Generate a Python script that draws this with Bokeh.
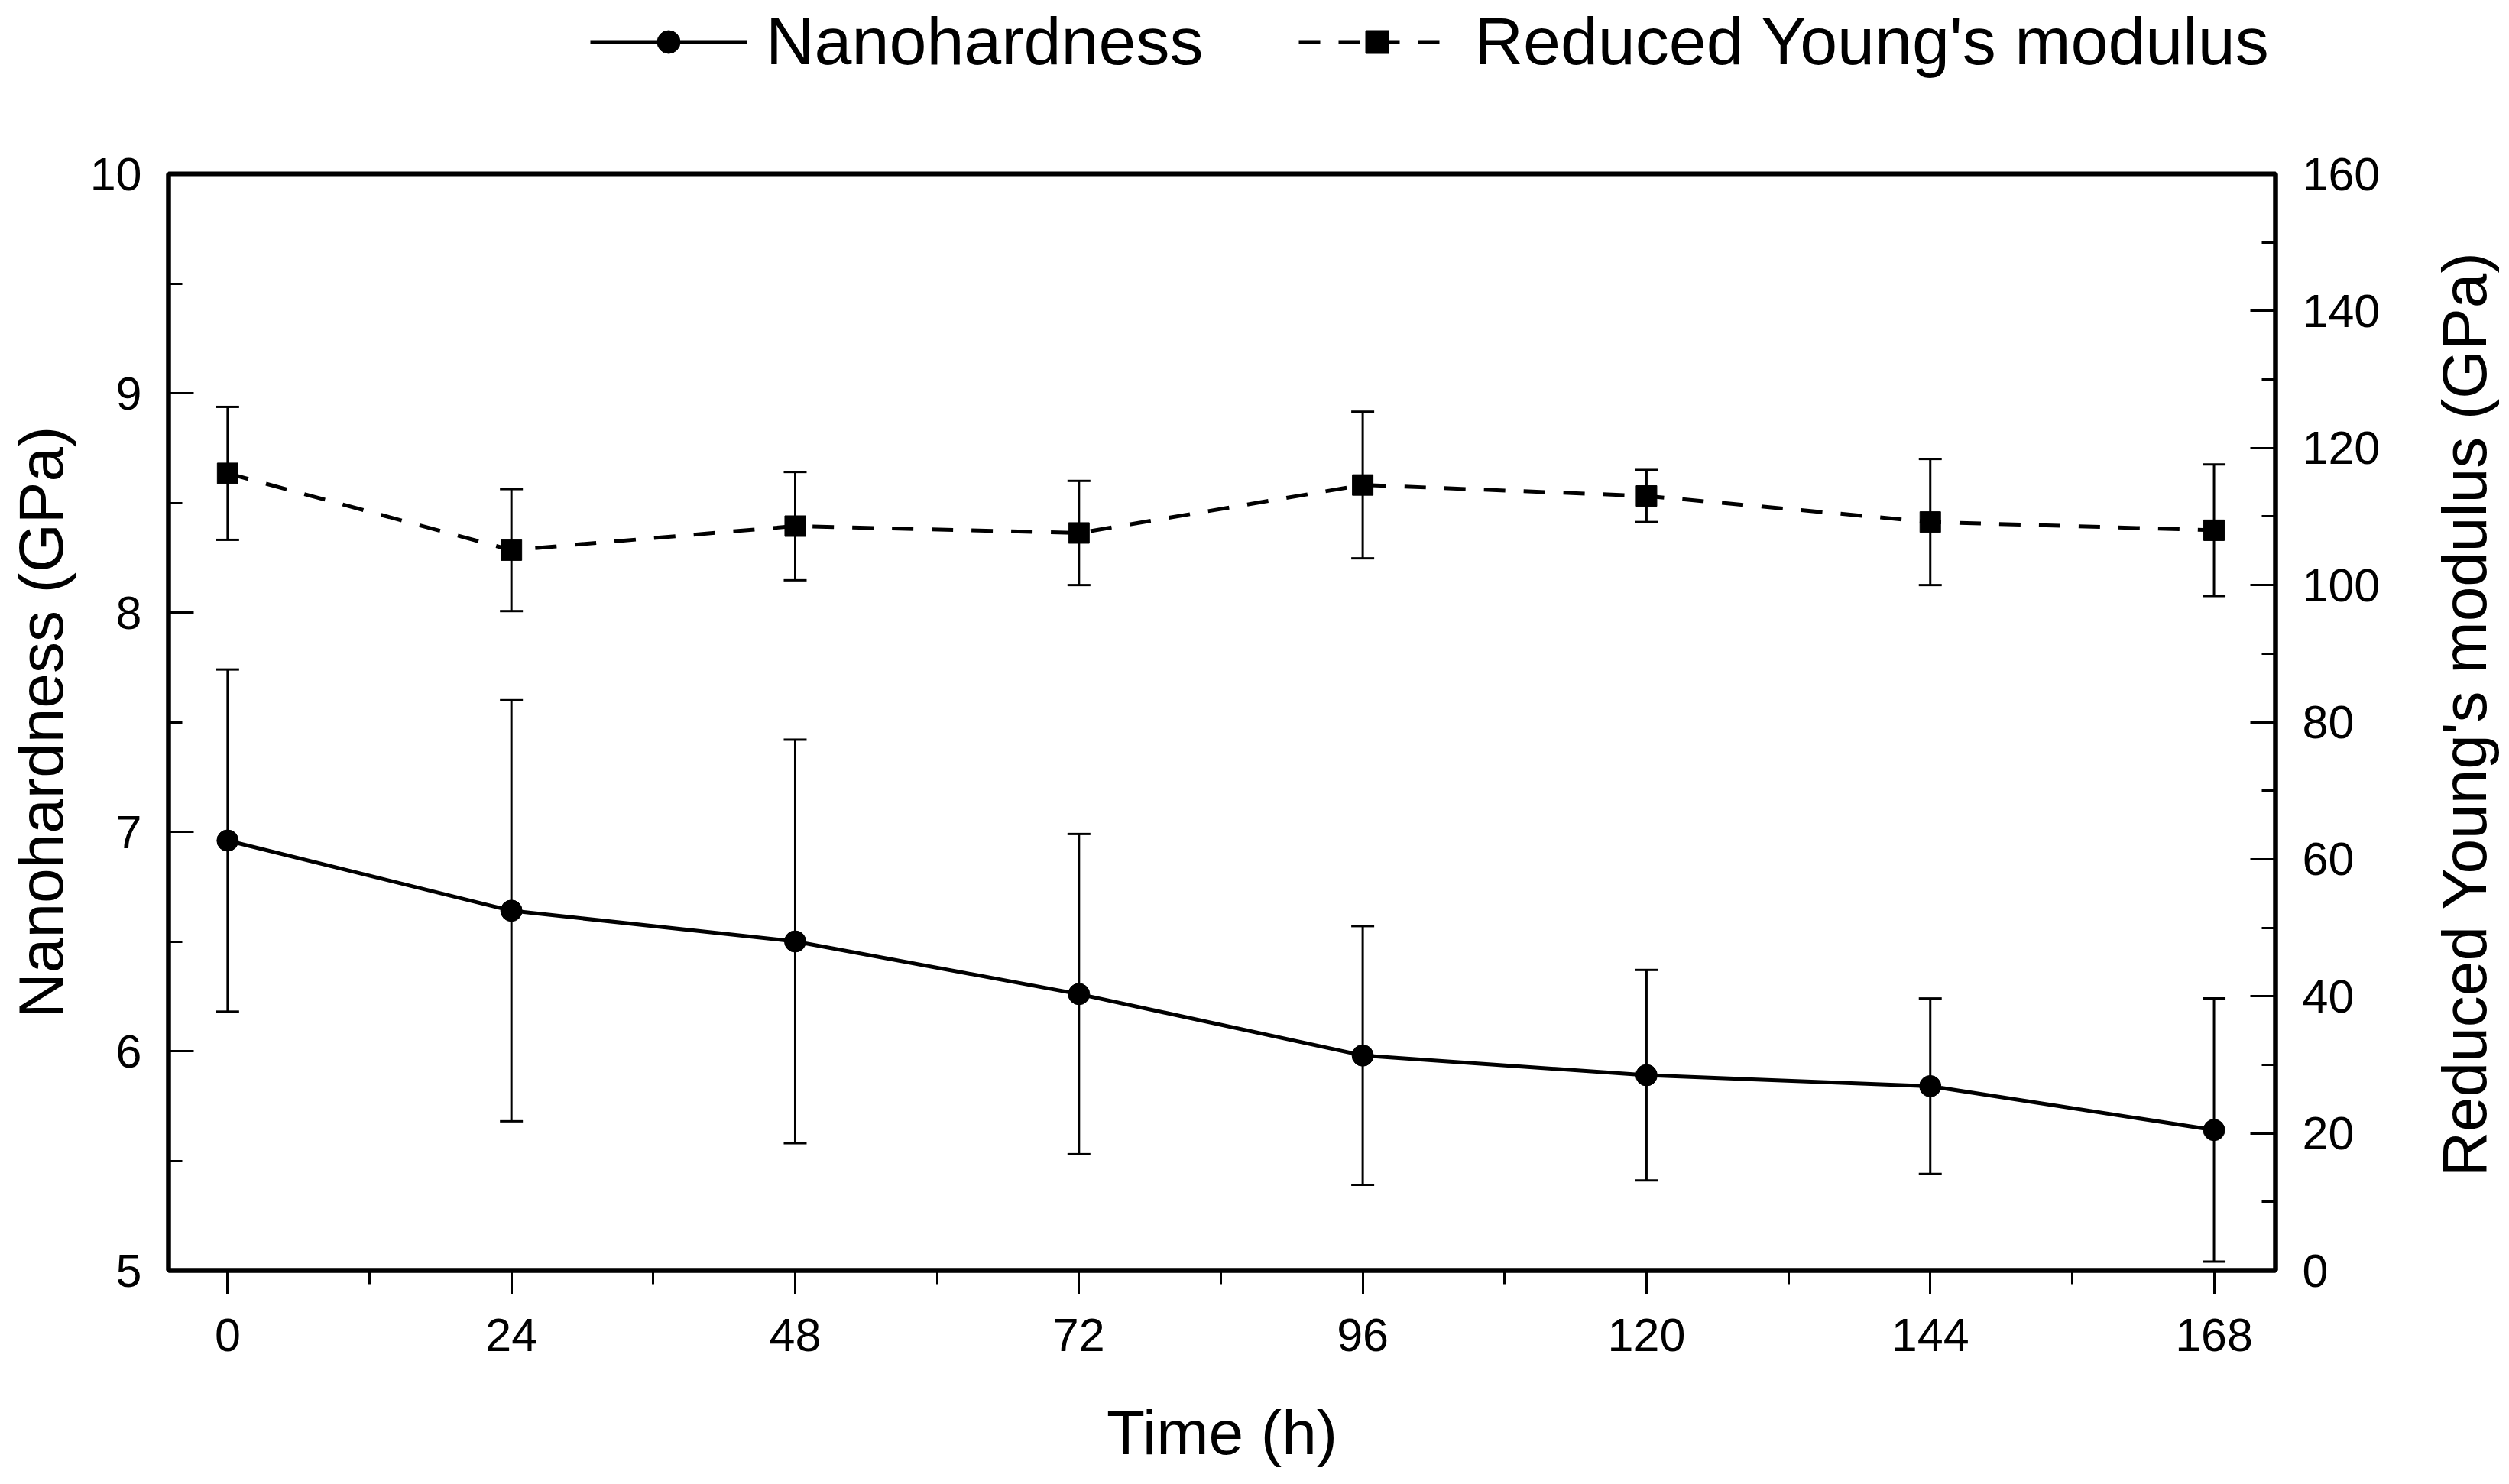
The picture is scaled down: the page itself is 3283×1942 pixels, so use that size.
import math
from bokeh.plotting import figure
from bokeh.layouts import row, column
from bokeh.models import (Range1d, LinearAxis, Whisker, TeeHead, ColumnDataSource,
                          Legend, LegendItem, FixedTicker, Label)
from bokeh.embed import file_html
from bokeh.resources import INLINE

# ---- data ----
time_h = [0, 24, 48, 72, 96, 120, 144, 168]
hardness = [6.96, 6.64, 6.50, 6.26, 5.98, 5.89, 5.84, 5.64]
hardness_err = [0.78, 0.96, 0.92, 0.73, 0.59, 0.48, 0.40, 0.60]
modulus = [116.3, 105.1, 108.6, 107.6, 114.6, 113.0, 109.2, 108.0]
modulus_err = [9.7, 8.9, 7.9, 7.6, 10.7, 3.8, 9.2, 9.6]

x_ticks = [0, 24, 48, 72, 96, 120, 144, 168]
x_minor = [12, 36, 60, 84, 108, 132, 156]
left_ticks = [5, 6, 7, 8, 9, 10]
left_minor = [5.5, 6.5, 7.5, 8.5, 9.5]
right_ticks = [0, 20, 40, 60, 80, 100, 120, 140, 160]
right_minor = [10, 30, 50, 70, 90, 110, 130, 150]

x_title = "Time (h)"
left_title = "Nanohardness (GPa)"
right_title = "Reduced Young's modulus (GPa)"
series_names = ["Nanohardness", "Reduced Young's modulus"]

FONT = "Liberation Sans"
LEG_H = 112          # height of the legend strip on top
MAIN_W = 3140
MAIN_H = 1926 - LEG_H

src = ColumnDataSource(dict(
    t=time_h,
    h=hardness,
    h_lo=[v - e for v, e in zip(hardness, hardness_err)],
    h_hi=[v + e for v, e in zip(hardness, hardness_err)],
    m=modulus,
    m_lo=[v - e for v, e in zip(modulus, modulus_err)],
    m_hi=[v + e for v, e in zip(modulus, modulus_err)],
))

LINE_KW = dict(line_color="black", line_width=5)
DASH_KW = dict(line_color="black", line_width=5, line_dash="28 24")
CIRC_KW = dict(marker="circle", size=28, color="black")
SQR_KW = dict(marker="square", size=27, color="black")

# ---------------- main chart ----------------
p = figure(width=MAIN_W, height=MAIN_H, output_backend="svg", toolbar_location=None,
           x_range=Range1d(-5.0, 173.2), y_range=Range1d(5, 10),
           min_border_left=220, min_border_right=163, min_border_top=227 - LEG_H,
           min_border_bottom=264)
p.grid.visible = False
p.background_fill_color = "white"
p.border_fill_color = "white"
p.outline_line_color = "black"
p.outline_line_width = 6

p.extra_y_ranges = {"mod": Range1d(0, 160)}

def style_axis(ax, major, minor, tick_in, tick_out, minor_in, minor_out, standoff):
    ax.ticker = FixedTicker(ticks=major, minor_ticks=minor)
    ax.axis_line_width = 6
    ax.axis_line_color = "black"
    ax.major_tick_line_width = 3
    ax.minor_tick_line_width = 3
    ax.major_tick_in = tick_in
    ax.major_tick_out = tick_out
    ax.minor_tick_in = minor_in
    ax.minor_tick_out = minor_out
    ax.major_label_text_font = FONT
    ax.major_label_text_font_size = "61px"
    ax.major_label_text_color = "black"
    ax.major_label_standoff = standoff
    ax.axis_label_text_font = FONT
    ax.axis_label_text_font_size = "82px"
    ax.axis_label_text_font_style = "normal"
    ax.axis_label_text_color = "black"

xa = p.xaxis[0]
xa.axis_label = x_title
style_axis(xa, x_ticks, x_minor, 0, 31, 0, 18, 32)
xa.axis_label_standoff = 58

ya = p.yaxis[0]
ya.axis_label = left_title
style_axis(ya, left_ticks, left_minor, 33, 0, 18, 0, 35)
ya.axis_label_standoff = 16

yr = LinearAxis(y_range_name="mod")
style_axis(yr, right_ticks, right_minor, 33, 0, 18, 0, 35)
p.add_layout(yr, "right")

p.line("t", "h", source=src, **LINE_KW)
p.scatter("t", "h", source=src, **CIRC_KW)
p.line("t", "m", source=src, y_range_name="mod", **DASH_KW)
p.scatter("t", "m", source=src, y_range_name="mod", **SQR_KW)

def tee():
    return TeeHead(size=30, line_width=3, line_color="black")

p.add_layout(Whisker(source=src, base="t", upper="h_hi", lower="h_lo",
                     line_color="black", line_width=3,
                     upper_head=tee(), lower_head=tee()))
p.add_layout(Whisker(source=src, base="t", upper="m_hi", lower="m_lo",
                     y_range_name="mod", line_color="black", line_width=3,
                     upper_head=tee(), lower_head=tee()))

# ---------------- legend strip (same series; plot area kept empty) ----------------
pl = figure(width=MAIN_W, height=LEG_H, output_backend="svg", toolbar_location=None,
            x_range=Range1d(-5.0, 173.2), y_range=Range1d(-1000, -999),
            x_axis_location=None, y_axis_location=None, min_border=0)
pl.grid.visible = False
pl.outline_line_color = None
pl.background_fill_color = "white"
pl.border_fill_color = "white"
ll1 = pl.line("t", "h", source=src, **LINE_KW)
ls1 = pl.scatter("t", "h", source=src, **CIRC_KW)
ll2 = pl.line("t", "m", source=src, **DASH_KW)
ls2 = pl.scatter("t", "m", source=src, **SQR_KW)

legend = Legend(items=[LegendItem(label=series_names[0], renderers=[ll1, ls1]),
                       LegendItem(label=series_names[1], renderers=[ll2, ls2])],
                orientation="horizontal", location=(772, 7),
                glyph_width=205, glyph_height=75, label_standoff=25, spacing=125,
                padding=0, margin=0, border_line_color=None,
                background_fill_alpha=0,
                label_text_font=FONT, label_text_font_size="88px",
                label_text_color="black")
pl.add_layout(legend)

# ---------------- right-hand axis title, reading bottom-to-top ----------------
# (this figure's frame is aligned with the main chart's frame by the row layout)
p2 = figure(width=135, height=MAIN_H, output_backend="svg", toolbar_location=None,
            x_range=Range1d(0, 1), y_range=Range1d(0, 1),
            x_axis_location=None, y_axis_location=None, min_border=0)
p2.grid.visible = False
p2.outline_line_color = None
p2.background_fill_color = "white"
p2.border_fill_color = "white"
p2.add_layout(Label(x=84, y=728, x_units="screen", y_units="screen",
                    text=right_title, angle=math.pi / 2,
                    text_align="center", text_baseline="middle",
                    text_font=FONT, text_font_size="82px", text_color="black"))

layout = column(pl, row(p, p2))
open("out.html", "w").write(file_html(layout, INLINE))
